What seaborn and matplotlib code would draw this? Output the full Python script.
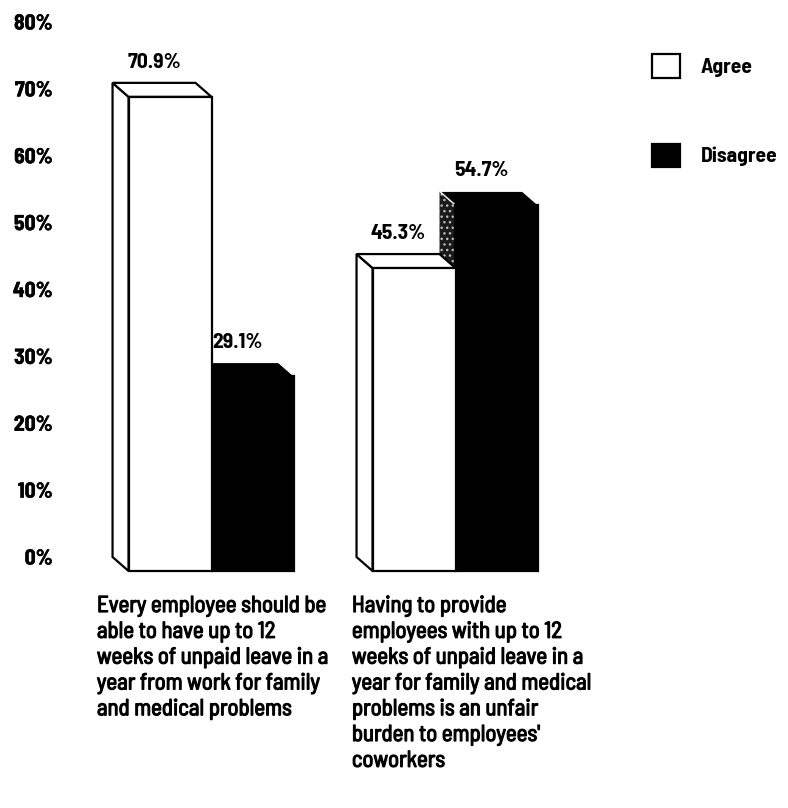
import numpy as np
import pandas as pd
import seaborn as sns
import matplotlib.pyplot as plt
import matplotlib.patheffects as pe
from matplotlib.patches import Polygon
from matplotlib import font_manager as fm

statements = [
    "Every employee should be\nable to have up to 12\nweeks of unpaid leave in a\nyear from work for family\nand medical problems",
    "Having to provide\nemployees with up to 12\nweeks of unpaid leave in a\nyear for family and medical\nproblems is an unfair\nburden to employees'\ncoworkers",
]
responses = ["Agree", "Disagree"]
agree = [70.9, 45.3]
disagree = [29.1, 54.7]
yticks = [0, 10, 20, 30, 40, 50, 60, 70, 80]

df = pd.DataFrame({
    "statement": [0, 1, 0, 1],
    "response": ["Agree", "Agree", "Disagree", "Disagree"],
    "value": agree + disagree,
})

sns.set_theme(style="white")
installed = {f.name for f in fm.fontManager.ttflist}
wanted = ['Barlow Semi Condensed', 'Roboto Condensed', 'Encode Sans Condensed',
          'Archivo Narrow', 'PT Sans Narrow', 'DejaVu Sans']
fams = [f for f in wanted if f in installed]
plt.rcParams['font.family'] = fams[:1] + ['DejaVu Sans']
plt.rcParams['text.color'] = 'black'
plt.rcParams['ytick.color'] = 'black'

W, H = 788, 808
fig = plt.figure(figsize=(W / 100, H / 100), dpi=100)
ax_l, ax_r, ax_b, ax_t = 75, 620, 557, 22
ax = fig.add_axes([ax_l / W, 1 - ax_b / H, (ax_r - ax_l) / W, (ax_b - ax_t) / H])

sns.barplot(data=df, x="statement", y="value", hue="response", hue_order=responses,
            palette={"Agree": "white", "Disagree": "black"}, edgecolor="black",
            linewidth=1.6, width=0.68, ax=ax, native_scale=True)

px = 244.0
x0px = 195.5
ax.set_xlim(-(x0px - ax_l) / px, (ax_r - x0px) / px)
ax.set_ylim(0, 80)

# depth offset of the 3d look, in pixels -> data units
ddx = 16 / px
ddy = 14 / (ax_b - ax_t) * 80

fs = 15.5
thin = [pe.withStroke(linewidth=0.3, foreground="black")]
for ci, cont in enumerate(ax.containers):
    dark = responses[ci] == "Disagree"
    z = 2 if dark else 4
    for p in cont.patches:
        x0, w, h = p.get_x(), p.get_width(), p.get_height()
        side = Polygon([(x0, 0), (x0, h), (x0 + ddx, h - ddy), (x0 + ddx, -ddy)],
                       closed=True, facecolor="#1a1a1a" if dark else "white",
                       edgecolor="black", linewidth=1.6, zorder=z, clip_on=False)
        if dark:
            side.set_hatch("...")
            side.set_edgecolor("#bbbbbb")
            side.set_linewidth(0)
        top = Polygon([(x0, h), (x0 + w, h), (x0 + w + ddx, h - ddy), (x0 + ddx, h - ddy)],
                      closed=True, facecolor="black" if dark else "white",
                      edgecolor="black" if not dark else "white",
                      linewidth=1.6 if not dark else 1.0, zorder=z, clip_on=False)
        ax.add_patch(side)
        ax.add_patch(top)
        p.set_x(x0 + ddx)
        p.set_y(-ddy)
        p.set_zorder(z + 0.5)
        p.set_clip_on(False)
        ax.text(x0 + w / 2, h + 1.6, f"{h:.1f}%", ha="center", va="bottom",
                fontsize=fs, fontweight="bold", color="black")

ax.set_yticks(yticks)
ax.set_yticklabels([f"{t}%" for t in yticks], fontsize=fs, fontweight="bold")
for t in ax.get_yticklabels():
    t.set_path_effects(thin)
ax.tick_params(axis="y", length=0, pad=16)
ax.set_xticks([])
ax.set_xlabel("")
ax.set_ylabel("")
sns.despine(ax=ax, left=True, bottom=True)

label_x = [-0.404, 0.641]
for i, s in enumerate(statements):
    ax.text(label_x[i], -(596 - ax_b) / (ax_b - ax_t) * 80, s, ha="left", va="top",
            fontsize=16.5, linespacing=1.3, color="black", clip_on=False,
            path_effects=[pe.withStroke(linewidth=0.9, foreground="black")])

handles, labels = ax.get_legend_handles_labels()
leg = ax.legend(handles, labels, loc="upper left", bbox_to_anchor=(633 / W, 1 - 35 / H),
                bbox_transform=fig.transFigure, frameon=False,
                handlelength=1.3, handleheight=1.3, labelspacing=3.05, handletextpad=0.95,
                prop={"weight": "bold", "size": fs, "family": fams[:1] + ['DejaVu Sans']})

fig.savefig("out.png", dpi=100)
